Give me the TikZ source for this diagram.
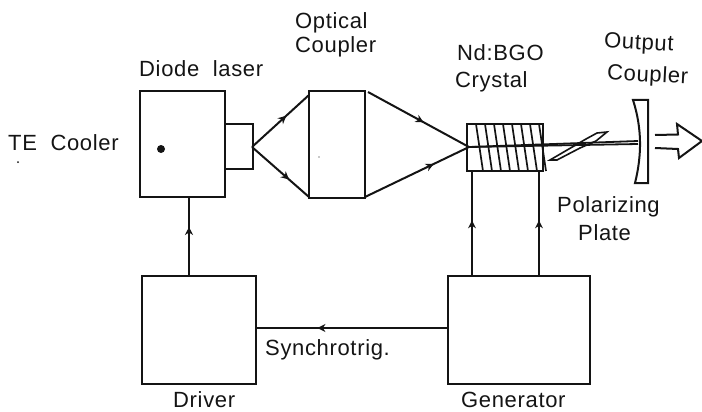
\documentclass[tikz,border=0pt]{standalone}
\usepackage{fontspec}
\setmainfont[LetterSpace=3]{Liberation Sans}
\usetikzlibrary{arrows.meta,decorations.markings}
\definecolor{ink}{gray}{0.08}
\tikzset{
  x=1pt,y=-1pt,
  unit/.style={draw=ink,line width=2pt,inner sep=0pt,outer sep=0pt,minimum width=#1},
  lab/.style={font=\fontsize{22}{24}\selectfont,text=ink,inner sep=0pt,anchor=west},
  conn/.style={draw=ink,line width=2pt},
  midarrow/.style={conn,postaction={decorate},decoration={markings,mark=at position #1 with {\arrow[ink]{Stealth[length=8pt,width=8pt]}}}},
  turn/.style={draw=ink,line width=1.7pt},
}
\begin{document}
\begin{tikzpicture}
\useasboundingbox (0,0) rectangle (702,412);
% boxes
\node[unit=85,minimum height=106] (diode) at (182.5,144) {};
\node[unit=28,minimum height=45] (head) at (239,146.5) {};
\node[unit=56,minimum height=107] (optic) at (337,144.5) {};
\node[unit=76,minimum height=47] (crystal) at (505,147.5) {};
\node[unit=114,minimum height=108] (driver) at (199,330) {};
\node[unit=142,minimum height=108] (generator) at (519,330) {};
% named points
\coordinate (src) at (252,147);
\coordinate (focus) at (469,147);
\coordinate (optTL) at (309,95);
\coordinate (optBL) at (309,197);
\coordinate (optTR) at (368,92);
\coordinate (optBR) at (365,197);
\coordinate (mirrorA) at (638,141);
\coordinate (mirrorB) at (638,144);
% optical rays
\draw[midarrow=0.6] (src) -- (optTL);
\draw[midarrow=0.65] (src) -- (optBL);
\draw[midarrow=0.55] (optTR) -- (focus);
\draw[midarrow=0.66] (optBR) -- (focus);
% coil
\foreach \x in {476,485,494,503,512,521,530,539}
  \draw[turn] (\x,124) -- (\x+7,171);
% polarizing plate
\draw[draw=ink,line width=1.6pt,fill=white] (550,160) -- (586,139) -- (597,133) -- (607,132) -- (596,141) -- (580,148) -- (557,160) -- cycle;
% beam
\draw[conn,line width=1.8pt] (focus) -- (mirrorA);
\draw[conn,line width=1.8pt] (focus) -- (mirrorB);
% output coupler
\draw[draw=ink,line width=2pt,fill=white] (633,100) .. controls (642,128) and (642,155) .. (635,183) -- (648,183) -- (648,100) -- cycle;
% output arrow
\coordinate (tip) at (702,141);
\draw[conn,line join=miter] (655,135) -- (678,134.5) -- (677,124) -- (tip) -- (679,158) -- (678,149) -- (655,148);
% connectors
\draw[midarrow=0.62] (driver.north -| 189,0) -- (diode.south -| 189,0);
\draw[midarrow=0.53] (generator.north -| 472,0) -- (crystal.south -| 472,0);
\draw[midarrow=0.53] (generator.north -| 539,0) -- (crystal.south -| 539,0);
\draw[midarrow=0.68] (generator.west |- 0,328) -- (driver.east |- 0,328);
% specks
\fill[ink] (161,149) circle (4);
\fill[ink] (18,162) circle (1);
\fill[ink] (319,157) circle (0.7);
% labels
\node[lab] (l1) at (295,23) {Optical};
\node[lab] (l2) at (295,47) {Coupler};
\node[lab] (l3) at (139,69) {Diode\ \ laser};
\node[lab] (l4) at (8,143) {TE\ \ Cooler};
\node[lab] (l5) at (457,53) {Nd:BGO};
\node[lab] (l6) at (455,82) {Crystal};
\node[lab,rotate=-3] (l7) at (604,42) {Output};
\node[lab,rotate=-3] (l8) at (607,74) {Coupler};
\node[lab] (l9) at (557,207) {Polarizing};
\node[lab] (l10) at (578,233) {Plate};
\node[lab] (l11) at (265,350) {Synchrotrig.};
\node[lab] (l12) at (173,400) {Driver};
\node[lab] (l13) at (461,400) {Generator};
\end{tikzpicture}
\end{document}
